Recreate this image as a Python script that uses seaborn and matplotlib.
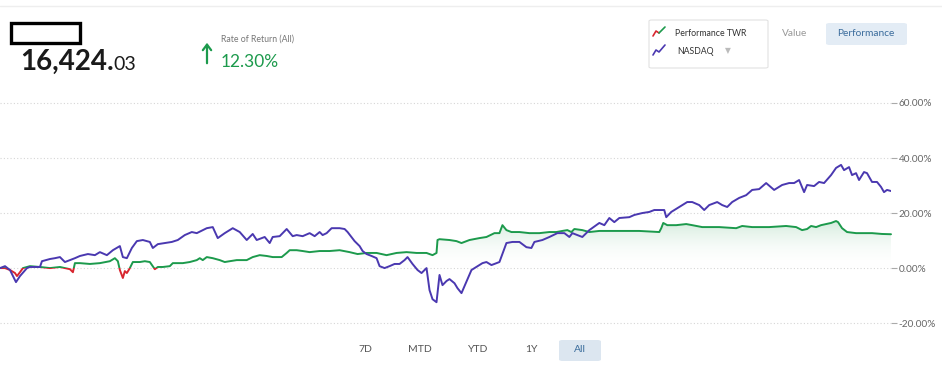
import numpy as np
import pandas as pd
import seaborn as sns
import matplotlib
matplotlib.use("Agg")
import matplotlib.pyplot as plt
from matplotlib.path import Path
from matplotlib.patches import Rectangle, FancyBboxPatch, FancyArrowPatch
from matplotlib.lines import Line2D
from matplotlib.colors import LinearSegmentedColormap

# values (day index, percent return)
nasdaq_day = [0, 5, 10, 16, 20, 27, 30, 40, 42, 50, 55, 60, 65, 70, 75, 80, 88, 95, 100, 107,
              113, 120, 123, 127, 132, 137, 143, 150, 153, 158, 165, 172, 178, 185, 192, 197, 203,
              207, 213, 218, 225, 233, 240, 247, 253, 257, 265, 270, 273, 280, 287, 293, 297, 303,
              310, 315, 320, 323, 327, 332, 340, 345, 348, 355, 360, 363, 367, 372, 377, 380, 385,
              390, 395, 400, 405, 408, 413, 418, 422, 427, 430, 433, 437, 440, 443, 447, 450, 455,
              458, 462, 472, 483, 487, 492, 500, 507, 513, 520, 527, 532, 535, 543, 550, 558, 565,
              570, 573, 583, 590, 600, 605, 610, 615, 620, 630, 635, 643, 650, 655, 665, 667, 672,
              680, 688, 693, 700, 705, 710, 718, 723, 728, 733, 740, 747, 753, 760, 767, 775, 783,
              790, 795, 800, 805, 808, 815, 820, 825, 832, 837, 842, 845, 850, 853, 857, 860, 865,
              868, 873, 878, 882, 885, 888, 892]
nasdaq_pct = [0.0, 0.7, -0.7, -5.1, -2.9, 0.0, 0.4, 0.4, 2.5, 3.3, 3.6, 4.0, 2.2, 2.9, 3.6, 4.4,
              5.1, 4.7, 5.8, 4.7, 6.5, 8.0, 4.0, 3.6, 7.3, 9.8, 10.2, 9.5, 7.3, 8.7, 9.1, 9.5, 10.2,
              12.0, 13.1, 12.7, 13.8, 14.5, 14.9, 10.9, 12.7, 14.5, 13.1, 10.2, 12.4, 10.2, 11.3,
              9.1, 11.3, 11.6, 14.2, 11.6, 12.0, 11.6, 12.7, 11.6, 13.1, 12.0, 12.7, 14.5, 14.5,
              14.2, 13.1, 9.8, 8.0, 6.2, 5.1, 4.4, 3.6, 0.7, 0.0, 0.7, 1.5, 1.5, 2.9, 4.0, 1.5,
              -0.7, -1.8, 0.0, -8.0, -11.3, -12.4, -2.5, -6.2, -4.7, -4.0, -5.5, -7.3, -9.1, -0.7,
              1.8, 2.2, 1.1, 2.2, 9.1, 9.5, 9.5, 7.6, 7.3, 9.5, 10.2, 11.3, 12.7, 12.7, 11.3, 12.7,
              11.3, 13.8, 16.4, 15.6, 18.2, 16.7, 18.2, 18.5, 19.3, 20.0, 20.4, 21.1, 21.1, 18.5,
              20.4, 22.2, 24.0, 24.0, 22.9, 21.1, 22.9, 24.0, 22.9, 22.2, 24.0, 25.5, 26.5, 28.4,
              28.7, 30.9, 28.4, 30.2, 30.9, 30.9, 32.0, 27.6, 30.2, 29.8, 31.3, 30.9, 33.8, 36.4,
              37.5, 35.6, 36.7, 33.8, 34.5, 32.0, 34.9, 34.5, 31.3, 31.3, 29.5, 27.6, 28.4, 28.0]

twr_day = [0, 5, 10, 15, 17, 20, 23, 30, 40, 50, 60, 70, 73, 75, 80, 90, 100, 110, 115, 118, 120,
           123, 125, 127, 130, 133, 140, 145, 150, 155, 158, 163, 170, 173, 183, 190, 197, 200, 203,
           207, 213, 220, 225, 230, 237, 247, 253, 260, 267, 273, 282, 287, 290, 297, 303, 310,
           320, 330, 340, 350, 358, 367, 377, 387, 397, 407, 417, 427, 433, 437, 438, 440, 450,
           457, 462, 470, 480, 487, 495, 500, 503, 507, 512, 520, 530, 540, 550, 557, 563, 568,
           572, 575, 583, 590, 600, 620, 640, 660, 662, 664, 668, 677, 687, 693, 703, 720, 737,
           743, 753, 770, 787, 797, 803, 808, 812, 817, 822, 832, 837, 839, 843, 848, 857, 863,
           873, 883, 892]
twr_pct = [0.0, 0.0, -0.7, -1.8, -2.9, -1.5, 0.0, 0.7, 0.4, 0.0, 0.4, -0.4, -1.5, 1.8, 1.8, 1.5,
           1.8, 2.5, 3.6, 2.5, -0.7, -3.6, -1.1, -1.8, 0.0, 2.2, 2.2, 2.5, 2.2, -0.4, 0.4, 0.4,
           0.7, 1.8, 1.8, 2.2, 2.9, 3.6, 2.9, 4.0, 3.6, 2.9, 2.2, 2.5, 2.9, 2.9, 4.0, 4.7, 4.4,
           4.0, 4.0, 5.5, 6.5, 6.5, 6.2, 5.8, 6.2, 6.2, 6.5, 5.8, 5.1, 5.5, 5.5, 4.7, 5.5, 5.8,
           5.5, 5.5, 4.7, 5.5, 10.2, 10.5, 10.2, 9.8, 9.1, 10.2, 10.9, 11.3, 12.7, 12.7, 15.6,
           13.8, 13.1, 13.1, 12.7, 12.7, 13.1, 13.1, 13.5, 13.8, 13.1, 14.2, 13.8, 13.1, 13.5,
           13.5, 13.5, 13.1, 14.5, 16.4, 15.6, 15.6, 16.0, 15.6, 14.9, 14.9, 14.5, 15.3, 14.9,
           14.9, 15.3, 14.9, 13.8, 14.2, 15.3, 14.9, 15.6, 16.4, 17.1, 16.7, 14.5, 13.1, 12.7,
           12.7, 12.7, 12.4, 12.3]

y_ticks = [60, 40, 20, 0, -20]
y_tick_labels = ["60.00%", "40.00%", "20.00%", "0.00%", "-20.00%"]
range_buttons = ["7D", "MTD", "YTD", "1Y", "All"]

GREEN = "#1c9a4c"
RED = "#d8262f"
PURPLE = "#4a38b0"
W, H = 942, 367

sns.set_style("white")
plt.rcParams["font.family"] = ["Lato", "DejaVu Sans"]


def px(x, y):
    # pixel position in the 942x367 picture -> figure fraction
    return x / W, 1 - y / H


fig = plt.figure(figsize=(W / 100, H / 100), dpi=100)
ax = fig.add_axes([0, (H - 330) / H, 891 / W, 235 / H])

twr = pd.DataFrame({"day": twr_day, "pct": twr_pct})
nasdaq = pd.DataFrame({"day": nasdaq_day, "pct": nasdaq_pct})

# soft green fill between the TWR line and zero
fill = ax.fill_between(twr["day"], twr["pct"], 0, where=twr["pct"] > 0, interpolate=True,
                       facecolor="none", edgecolor="none")
clip = Path.make_compound_path(*fill.get_paths())
fill.remove()
grad = np.linspace(0, 1, 256).reshape(-1, 1)
cmap = LinearSegmentedColormap.from_list("fade", [(1, 1, 1, 0), (0.11, 0.6, 0.3, 0.2)])
im = ax.imshow(grad, extent=[0, max(twr_day), 0, max(twr_pct)], origin="lower",
               cmap=cmap, aspect="auto", zorder=1, interpolation="bilinear")
im.set_clip_path(clip, transform=ax.transData)

# TWR line: red below zero, green above
sns.lineplot(data=twr, x="day", y="pct", ax=ax, color=RED, lw=1.4, zorder=3)
red_line = ax.lines[-1]
sns.lineplot(data=twr, x="day", y="pct", ax=ax, color=GREEN, lw=1.4, zorder=3)
green_line = ax.lines[-1]
red_line.set_clip_path(Rectangle((-1000, -1000), 5000, 1000, transform=ax.transData))
green_line.set_clip_path(Rectangle((-1000, 0), 5000, 1000, transform=ax.transData))

sns.lineplot(data=nasdaq, x="day", y="pct", ax=ax, color=PURPLE, lw=1.4, zorder=4)

ax.set_xlim(0, 892)
ax.set_ylim(-22.5, 62.9)
ax.set_xlabel("")
ax.set_ylabel("")
ax.set_xticks([])
ax.set_yticks(y_ticks)
ax.set_yticklabels(y_tick_labels)
ax.yaxis.tick_right()
ax.tick_params(axis="y", length=4, width=0.8, color="#aaaaaa", pad=1.5, labelsize=7.2,
               labelcolor="#666666")
ax.yaxis.grid(True, linestyle=(0, (1, 2)), color="#d6d6d6", lw=0.8)
ax.set_axisbelow(True)
sns.despine(ax=ax, left=True, bottom=True, right=True, top=True)
ax.patch.set_alpha(0)

# header
fig.add_artist(Line2D([0, 1], [1 - 6 / H, 1 - 6 / H], color="#eeeeee", lw=1))
x0, y0 = px(11, 43)
fig.add_artist(Rectangle((x0, y0), 69 / W, 20 / H, transform=fig.transFigure,
                         facecolor="white", edgecolor="black", lw=2.4))
big = fig.text(*px(20, 70), "16,424.", fontsize=20, fontweight="bold", color="#1a1a1a",
               va="baseline")
fig.canvas.draw()
bb = big.get_window_extent()
fig.text(bb.x1 / W, 1 - 70 / H, "03", fontsize=14, color="#1a1a1a", va="baseline")

fig.add_artist(FancyArrowPatch(px(207, 66), px(207, 40), transform=fig.transFigure,
                               arrowstyle="->,head_length=4,head_width=3", color=GREEN, lw=1.6))
fig.text(*px(221, 39), "Rate of Return (All)", fontsize=6.3, color="#777777", va="center")
fig.text(*px(221, 67), "12.30%", fontsize=12.5, color=GREEN, va="baseline")

# legend box
lx, ly = px(649, 68)
fig.add_artist(FancyBboxPatch((lx, ly), 119 / W, 48 / H, boxstyle="round,pad=0,rounding_size=0.003",
                              transform=fig.transFigure, facecolor="white",
                              edgecolor="#e2e2e2", lw=0.8))
xs_a, ys_a = zip(*[px(653, 36), px(656, 31), px(659, 33)])
fig.add_artist(Line2D(xs_a, ys_a, color=RED, lw=1.2))
xs_b, ys_b = zip(*[px(659, 33), px(665, 27)])
fig.add_artist(Line2D(xs_b, ys_b, color=GREEN, lw=1.2))
xs_c, ys_c = zip(*[px(653, 55), px(656, 50), px(659, 52), px(665, 45)])
fig.add_artist(Line2D(xs_c, ys_c, color=PURPLE, lw=1.2))
fig.text(*px(675, 33), "Performance TWR", fontsize=6.3, color="#333333", va="center")
fig.text(*px(677, 51), "NASDAQ", fontsize=6.3, color="#333333", va="center")
fig.text(*px(725, 51), "▼", fontsize=5.5, color="#bbbbbb", va="center",
         family=["DejaVu Sans"])

fig.text(*px(782, 34), "Value", fontsize=7.3, color="#999999", va="center")
bx, by = px(826, 45)
fig.add_artist(FancyBboxPatch((bx, by), 81 / W, 22 / H, boxstyle="round,pad=0,rounding_size=0.004",
                              transform=fig.transFigure, facecolor="#e3ecf5", edgecolor="none"))
fig.text(*px(866, 34), "Performance", fontsize=7.3, color="#3a6c9c", va="center", ha="center")

# range buttons
button_x = [365, 420, 478, 531, 580]
ax_, ay_ = px(559, 361)
fig.add_artist(FancyBboxPatch((ax_, ay_), 42 / W, 21 / H, boxstyle="round,pad=0,rounding_size=0.004",
                              transform=fig.transFigure, facecolor="#dce6f0", edgecolor="none"))
for label, bxp in zip(range_buttons, button_x):
    col = "#3a6c9c" if label == "All" else "#555555"
    fig.text(*px(bxp, 350), label, fontsize=7.5, color=col, va="center", ha="center")

fig.savefig("out.png", dpi=100)
